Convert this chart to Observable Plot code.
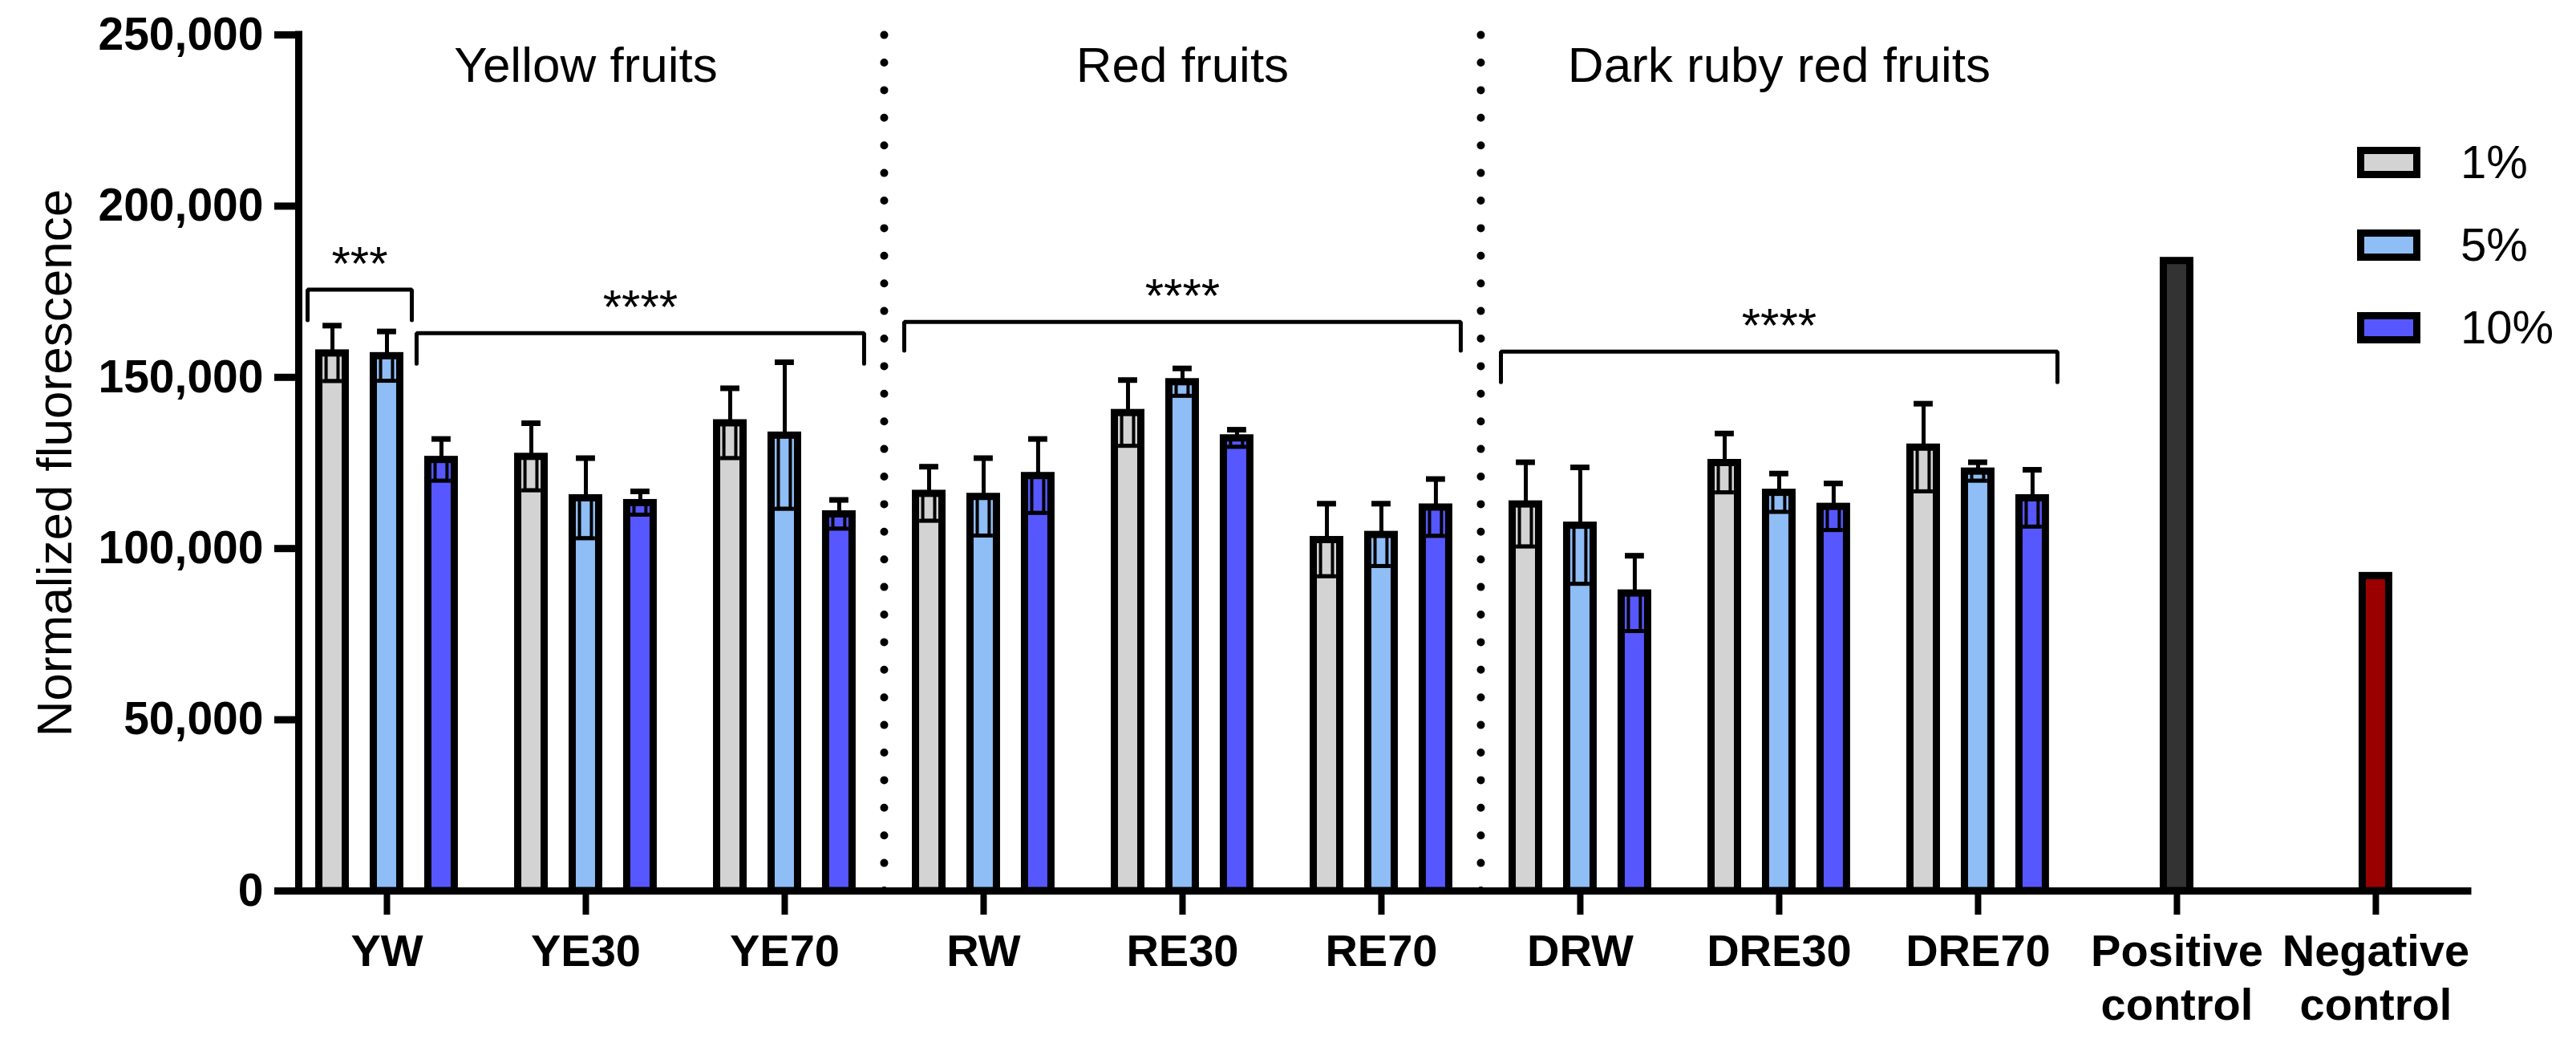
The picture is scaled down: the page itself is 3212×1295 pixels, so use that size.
<!DOCTYPE html>
<html>
<head>
<meta charset="utf-8">
<script src="https://cdn.jsdelivr.net/npm/d3@7"></script>
<script src="https://cdn.jsdelivr.net/npm/@observablehq/plot@0.6"></script>
<style>
  html, body { margin: 0; padding: 0; background: #fff; overflow: hidden; }
  #wrap { position: relative; width: 3212px; height: 1295px; font-family: "Liberation Sans", Arial, sans-serif; }
  #legend { position: absolute; left: 2939px; top: 173px; }
  .item { position: absolute; left: 0; display: flex; align-items: center; white-space: nowrap; }
  .sw { box-sizing: border-box; width: 79px; height: 39px; border: 9px solid #000; }
  .lab { margin-left: 50px; font-size: 58px; color: #000; line-height: 1; }
</style>
</head>
<body>
<div id="wrap"><div id="legend"></div></div>
<script>
// ---------- data ----------
const categories = ["YW", "YE30", "YE70", "RW", "RE30", "RE70", "DRW", "DRE30", "DRE70", "Positive\ncontrol", "Negative\ncontrol"];
const extractCategories = ["YW", "YE30", "YE70", "RW", "RE30", "RE70", "DRW", "DRE30", "DRE70"];
const controlCategories = ["Positive\ncontrol", "Negative\ncontrol"];
const concentrations = ["1%", "5%", "10%"];

const mean1  = [157000, 126800, 136600, 116000, 139600, 102500, 112900, 125000, 129500];
const sd1    = [  8100,   9800,  10200,   7900,   9600,  10600,  12300,   8600,  12800];
const mean5  = [156200, 114700, 133000, 115100, 148600, 104000, 106700, 116300, 122500];
const sd5    = [  7200,  11700,  21400,  11300,   4000,   9100,  17000,   5600,   2700];
const mean10 = [125900, 113300, 110000, 121200, 132200, 112000,  86900, 112200, 114700];
const sd10   = [  6100,   3400,   4200,  10800,   2500,   8300,  11000,   6800,   8300];
const controlValues = [184000, 92000];

const groupTitles = ["Yellow fruits", "Red fruits", "Dark ruby red fruits"];
const groupMembers = [["YW", "YE30", "YE70"], ["RW", "RE30", "RE70"], ["DRW", "DRE30", "DRE70"]];

const bracketLabels = ["***", "****", "****", "****"];
const bracketFrom   = [["YW", "1%"], ["YW", "10%"], ["RW", "1%"], ["DRW", "1%"]];
const bracketTo     = [["YW", "5%"], ["YE70", "10%"], ["RE70", "10%"], ["DRE70", "10%"]];
const bracketLevel  = [175600, 162900, 166200, 157500];
const bracketLegEnd = [166700, 154000, 157800, 148600];

const yTicks = [0, 50000, 100000, 150000, 200000, 250000];
const yTitle = "Normalized fluorescence";

// ---------- styles / layout ----------
const concColors = {"1%": "#d3d3d3", "5%": "#8fbdf5", "10%": "#5757ff"};
const controlColors = ["#333333", "#9b0000"];
const offset = {"1%": -0.274, "5%": 0, "10%": 0.274};
const barHalf = 0.0665, boxHalf = 0.03, capHalf = 0.048, outerHalf = 0.085, bracketPad = 0.04;
const xMin = -0.4435, xMax = 10.464;
const idx = c => categories.indexOf(c);

const means = [mean1, mean5, mean10], sds = [sd1, sd5, sd10];
const bars = extractCategories.flatMap((c, i) => concentrations.map((k, j) => ({
  cat: c, conc: k, mean: means[j][i], sd: sds[j][i], fill: concColors[k], pos: idx(c) + offset[k]
})));
const controls = controlCategories.map((c, j) => ({cat: c, mean: controlValues[j], fill: controlColors[j], pos: idx(c)}));
const allBars = bars.concat(controls);

const brackets = bracketLabels.map((label, b) => {
  const x1 = idx(bracketFrom[b][0]) + offset[bracketFrom[b][1]] - outerHalf - bracketPad;
  const x2 = idx(bracketTo[b][0]) + offset[bracketTo[b][1]] + outerHalf + bracketPad;
  return {label, x1, x2, mid: (x1 + x2) / 2, level: bracketLevel[b], leg: bracketLegEnd[b], id: b};
});
const bracketPts = brackets.flatMap(b => [
  {id: b.id, x: b.x1, y: b.leg}, {id: b.id, x: b.x1, y: b.level},
  {id: b.id, x: b.x2, y: b.level}, {id: b.id, x: b.x2, y: b.leg}
]);

const groups = groupTitles.map((t, g) => ({title: t, center: d3.mean(groupMembers[g], idx)}));
const dividers = groupMembers.slice(0, -1).map((m, g) => (idx(m[m.length - 1]) + idx(groupMembers[g + 1][0])) / 2);

const font = "'Liberation Sans', Arial, Helvetica, sans-serif";

const chart = Plot.plot({
  width: 3212,
  height: 1295,
  marginLeft: 372,
  marginRight: 135,
  marginTop: 43,
  marginBottom: 185,
  style: {fontFamily: font, background: "white", color: "black"},
  x: {domain: [xMin, xMax]},
  y: {domain: [0, 250000]},
  color: {type: "identity"},
  marks: [
    Plot.ruleX(dividers, {x: d => d, y1: 0, y2: 250000, stroke: "black", strokeWidth: 10,
      strokeDasharray: "0 34.4", strokeLinecap: "round"}),
    Plot.rectY(allBars, {x1: d => d.pos - barHalf, x2: d => d.pos + barHalf, y1: 0, y2: "mean",
      fill: "fill", stroke: "black", strokeWidth: 9}),
    Plot.rectY(bars, {x1: d => d.pos - boxHalf, x2: d => d.pos + boxHalf, y1: d => d.mean - d.sd, y2: "mean",
      fill: "none", stroke: "black", strokeWidth: 4}),
    Plot.ruleY(bars, {y: d => d.mean - d.sd, x1: d => d.pos - capHalf, x2: d => d.pos + capHalf, stroke: "black", strokeWidth: 5}),
    Plot.ruleX(bars, {x: "pos", y1: "mean", y2: d => d.mean + d.sd, stroke: "black", strokeWidth: 5}),
    Plot.ruleY(bars, {y: d => d.mean + d.sd, x1: d => d.pos - capHalf, x2: d => d.pos + capHalf, stroke: "black", strokeWidth: 7}),
    Plot.line(bracketPts, {x: "x", y: "y", z: "id", stroke: "black", strokeWidth: 5, strokeLinejoin: "miter", curve: "linear"}),
    Plot.text(brackets, {x: "mid", y: "level", text: "label", lineAnchor: "bottom", dy: -12, fontSize: 60, fill: "black"}),
    Plot.text(groups, {x: "center", frameAnchor: "top", text: "title", lineAnchor: "top", dy: 14, fontSize: 62, fill: "black"}),
    Plot.text([yTitle], {frameAnchor: "left", textAnchor: "middle", lineAnchor: "middle", rotate: -90, dx: -303,
      fontSize: 62, fill: "black"}),
    Plot.axisY({ticks: yTicks, tickFormat: d3.format(","), tickSize: 30, tickPadding: 14, fontSize: 57,
      fontWeight: "bold", strokeWidth: 9, label: null}),
    Plot.axisX({ticks: d3.range(categories.length), tickFormat: i => categories[i], tickSize: 30, tickPadding: 16,
      fontSize: 56, fontWeight: "bold", lineHeight: 1.2, strokeWidth: 8, label: null}),
    Plot.ruleX([xMin], {y1: 0, y2: 250000, stroke: "black", strokeWidth: 9, strokeLinecap: "square"}),
    Plot.ruleY([0], {stroke: "black", strokeWidth: 9, strokeLinecap: "square"})
  ]
});
document.getElementById("wrap").prepend(chart);

// legend (HTML, outside the SVG marks)
const legend = document.getElementById("legend");
concentrations.forEach((k, j) => {
  const item = document.createElement("div");
  item.className = "item";
  item.style.top = (j * 103) + "px";
  const sw = document.createElement("div");
  sw.className = "sw";
  sw.style.background = concColors[k];
  const lab = document.createElement("span");
  lab.className = "lab";
  lab.textContent = k;
  item.append(sw, lab);
  legend.append(item);
});
</script>
</body>
</html>
